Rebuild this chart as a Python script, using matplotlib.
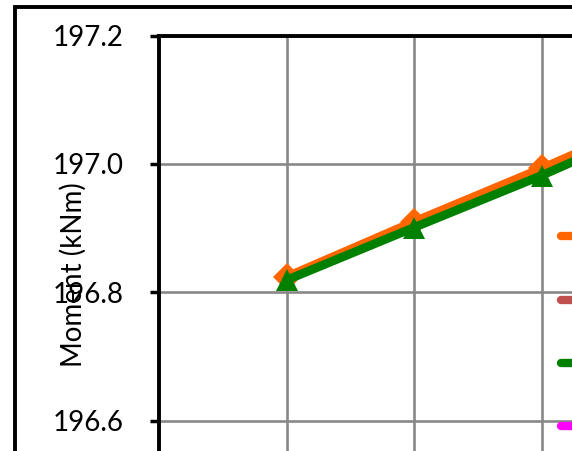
import matplotlib
matplotlib.use("Agg")
import matplotlib.pyplot as plt
from matplotlib.lines import Line2D
from matplotlib.patches import Rectangle

# ---- data ----
x_pos = [1, 2, 3, 4]
orange_vals = [196.824, 196.910, 196.993, 197.080]
green_vals = [196.819, 196.901, 196.982, 197.070]
y_ticks = [196.6, 196.8, 197.0, 197.2]
y_tick_labels = ["196.6", "196.8", "197.0", "197.2"]
legend_labels = ["Series 1", "Series 2", "Series 3", "Series 4"]
legend_colors = ["#FF6600", "#C0504D", "#008000", "#FF00FF"]

W, H = 572, 451
plt.rcParams['font.family'] = ['Lato', 'DejaVu Sans']
fig = plt.figure(figsize=(W / 100, H / 100), dpi=100)

# axes placement (extends beyond the canvas right and bottom, like the cropped reference)
left_px, top_px = 159, 35.7
px_per_x = 127.5
px_per_y = 641.5
xlim = (0, 5)
ylim = (196.5, 197.2)
ax_w = (xlim[1] - xlim[0]) * px_per_x
ax_h = (ylim[1] - ylim[0]) * px_per_y
ax = fig.add_axes([left_px / W, 1 - (top_px + ax_h) / H, ax_w / W, ax_h / H])

ax.plot(x_pos, orange_vals, color="#FF6600", lw=6.3, marker="D", ms=14,
        mew=0, zorder=3, solid_capstyle="round")
ax.plot(x_pos, green_vals, color="#008000", lw=6.3, marker="^", ms=16.5,
        mew=0, zorder=4, solid_capstyle="round")

ax.set_xlim(*xlim)
ax.set_ylim(*ylim)
ax.set_xticks(x_pos)
ax.set_xticklabels([])
ax.tick_params(axis='x', length=0)
ax.set_yticks(y_ticks)
ax.set_yticklabels(y_tick_labels, fontsize=20)
ax.tick_params(axis='y', length=6.5, width=2.5, pad=19, color='black')
ax.grid(True, color="#888888", lw=1.9)
ax.set_axisbelow(True)
for s in ["left", "top"]:
    ax.spines[s].set_linewidth(2.8)
    ax.spines[s].set_color("black")
for s in ["right", "bottom"]:
    ax.spines[s].set_visible(False)

fig.text(73 / W, 1 - 275 / H, "Moment (kNm)", rotation=90, ha="center",
         va="center", fontsize=20)

# figure frame
fig.patches.append(Rectangle((14.5 / W, -0.2), 1.5, 1 - 6.5 / H + 0.2,
                             transform=fig.transFigure, fill=False,
                             lw=2.8, ec="black"))

handles = [Line2D([], [], color=c, lw=6, solid_capstyle="round") for c in legend_colors]
fig.legend(handles, legend_labels, loc="upper left",
           bbox_to_anchor=(561 / W, 1 - 225 / H), frameon=False,
           fontsize=20, borderpad=0, borderaxespad=0, labelspacing=1.34,
           handlelength=2)

fig.savefig("out.png", dpi=100)
